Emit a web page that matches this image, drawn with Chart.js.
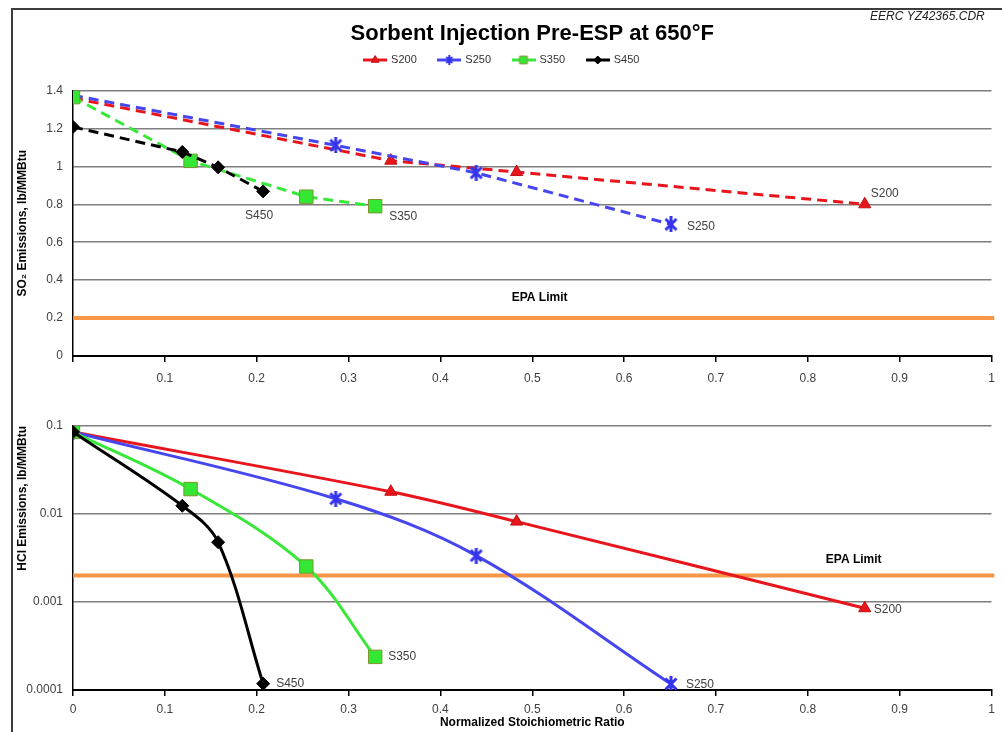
<!DOCTYPE html>
<html>
<head>
<meta charset="utf-8">
<script src="https://cdn.jsdelivr.net/npm/chart.js@4.4.1/dist/chart.umd.min.js"></script>
<style>
  body { margin: 0; background: #fff; overflow: hidden; }
  #frame { position: absolute; left: 11px; top: 8px; width: 991px; height: 724px;
           border-left: 2px solid #3c3c3c; border-top: 2px solid #3c3c3c; }
  canvas { position: absolute; left: 0; }
  #so2 { top: 0; }
  #hcl { top: 392px; }
</style>
</head>
<body>
<div id="frame"></div>
<canvas id="so2" width="1002" height="392"></canvas>
<canvas id="hcl" width="1002" height="340"></canvas>
<script>
// sorbents and axis ticks
const sorbents = ['S200', 'S250', 'S350', 'S450'];
const nsrTicks = [0, 0.1, 0.2, 0.3, 0.4, 0.5, 0.6, 0.7, 0.8, 0.9, 1];
const so2Ticks = [0, 0.2, 0.4, 0.6, 0.8, 1, 1.2, 1.4];
const hclTicks = [0.0001, 0.001, 0.01, 0.1];

// normalized stoichiometric ratio for each sorbent
const s200Nsr = [0, 0.346, 0.483, 0.862];
const s250Nsr = [0, 0.286, 0.439, 0.651];
const s350Nsr = [0, 0.128, 0.254, 0.329];
const s450Nsr = [0, 0.119, 0.158, 0.207];

// SO2 emissions, lb/MMBtu
const s200So2 = [1.36, 1.03, 0.97, 0.80];
const s250So2 = [1.375, 1.111, 0.966, 0.694];
const s350So2 = [1.365, 1.029, 0.84, 0.79];
const s450So2 = [1.208, 1.076, 0.995, 0.868];

// HCl emissions, lb/MMBtu
const s200Hcl = [0.0855, 0.0179, 0.0082, 0.00085];
const s250Hcl = [0.0855, 0.0149, 0.00337, 0.000117];
const s350Hcl = [0.0855, 0.0192, 0.00253, 0.000238];
const s450Hcl = [0.0855, 0.0124, 0.00478, 0.000118];

// EPA limits
const epaSo2 = 0.2;
const epaHcl = 0.002;
const epaSpan = [0, 1.003];
const epaLabelX = [0.508, 0.85];

const { drawPoint } = Chart.helpers;
Chart.defaults.font.family = '"Liberation Sans", Arial, sans-serif';
Chart.defaults.color = '#404040';

function starImage(color, size, lw) {
  const c = document.createElement('canvas');
  c.width = size; c.height = size;
  const g = c.getContext('2d');
  const m = lw / 2 + 1;
  g.strokeStyle = color; g.lineWidth = lw;
  g.beginPath();
  g.moveTo(m, m); g.lineTo(size - m, size - m);
  g.moveTo(size - m, m); g.lineTo(m, size - m);
  g.moveTo(size / 2, 0); g.lineTo(size / 2, size);
  g.stroke();
  return c;
}

const seriesStyles = [
  { color: '#e8161c', fill: '#e8161c', border: '#c01010', marker: 'triangle', radius: 7, legendRadius: 4.5 },
  { color: '#4646f0', fill: '#4646f0', border: '#4646f0', marker: starImage('#3434ee', 16, 3), radius: 7, legendImg: starImage('#3434ee', 10, 2) },
  { color: '#38e838', fill: '#33e833', border: '#7f9430', marker: 'rect', radius: 9.5, legendRadius: 5.5 },
  { color: '#000000', fill: '#000000', border: '#000000', marker: 'rectRot', radius: 6.5, legendRadius: 4 }
];

function legendImage(i) {
  const st = seriesStyles[i];
  const c = document.createElement('canvas');
  c.width = 24; c.height = 12;
  const g = c.getContext('2d');
  g.strokeStyle = st.color; g.lineWidth = 3;
  g.beginPath(); g.moveTo(0, 6); g.lineTo(24, 6); g.stroke();
  if (st.legendImg) {
    g.drawImage(st.legendImg, 7, 1);
  } else {
    g.fillStyle = st.fill; g.strokeStyle = st.border; g.lineWidth = 1;
    drawPoint(g, { pointStyle: st.marker, radius: st.legendRadius, borderWidth: 1, rotation: 0 }, 12, 6);
  }
  return c;
}

function seriesDataset(i, xs, ys, dashed) {
  const st = seriesStyles[i];
  return {
    label: sorbents[i],
    xAxisID: 'x',
    data: xs.map((x, k) => ({ x, y: ys[k] })),
    borderColor: st.color,
    backgroundColor: st.fill,
    borderWidth: 3,
    borderDash: dashed ? [10, 6] : [],
    tension: dashed ? 0 : 0.35,
    pointStyle: st.marker,
    pointRadius: st.radius,
    pointBackgroundColor: st.fill,
    pointBorderColor: st.border,
    pointBorderWidth: 1,
    order: 4 - i
  };
}

function epaDataset(level) {
  return {
    label: 'EPA Limit',
    xAxisID: 'x',
    data: epaSpan.map(x => ({ x, y: level })),
    borderColor: '#f79646',
    borderWidth: 4,
    pointRadius: 0,
    clip: 6,
    order: 10
  };
}

// text tags placed at data values with pixel offsets
const tagPlugin = {
  id: 'tags',
  afterDatasetsDraw(chart, args, opts) {
    const { ctx, scales } = chart;
    ctx.save();
    ctx.textBaseline = 'middle';
    opts.items.forEach(t => {
      ctx.font = t.font || '12px "Liberation Sans", Arial, sans-serif';
      ctx.fillStyle = t.color || '#404040';
      ctx.textAlign = t.align || 'left';
      ctx.fillText(t.text, scales.x.getPixelForValue(t.x) + (t.dx || 0), scales.y.getPixelForValue(t.y) + (t.dy || 0));
    });
    if (opts.stamp) {
      ctx.font = 'italic 12px "Liberation Sans", Arial, sans-serif';
      ctx.fillStyle = '#222';
      ctx.textAlign = 'left';
      ctx.fillText(opts.stamp, 870, 17);
    }
    ctx.restore();
  }
};

const tickFont = { size: 12 };
const boldFont = { size: 12, weight: 'bold' };
const epaFont = 'bold 12px "Liberation Sans", Arial, sans-serif';
const nsrSets = [s200Nsr, s250Nsr, s350Nsr, s450Nsr];
const so2Sets = [s200So2, s250So2, s350So2, s450So2];
const hclSets = [s200Hcl, s250Hcl, s350Hcl, s450Hcl];
const last = a => a[a.length - 1];

const so2Offsets = [{ dx: 6, dy: -11 }, { dx: 16, dy: 2 }, { dx: 14, dy: 11 }, { dx: -4, dy: 24, align: 'center' }];
const hclOffsets = [{ dx: 9, dy: 1 }, { dx: 15, dy: 1 }, { dx: 13, dy: 0 }, { dx: 13, dy: 0 }];

function xScale(showZero, pad, height, withTitle) {
  return {
    type: 'linear', min: 0, max: 1,
    afterBuildTicks: s => { s.ticks = nsrTicks.map(v => ({ value: v })); },
    ticks: { callback: v => (v === 0 && !showZero) ? '' : String(v), font: tickFont, padding: pad, maxRotation: 0, autoSkip: false },
    grid: { drawOnChartArea: false, drawTicks: true, tickLength: 6, color: '#000', lineWidth: 1.5 },
    border: { color: '#000', width: 2 },
    title: { display: withTitle, text: 'Normalized Stoichiometric Ratio', font: boldFont, color: '#000', padding: { top: 2, bottom: 2 } },
    afterFit: s => { s.height = height; s.paddingLeft = 0; s.paddingRight = 0; }
  };
}

new Chart(document.getElementById('so2'), {
  type: 'line',
  data: {
    datasets: sorbents.map((n, i) => seriesDataset(i, nsrSets[i], so2Sets[i], true)).concat([epaDataset(epaSo2)])
  },
  options: {
    responsive: false,
    animation: false,
    layout: { padding: { left: 11, right: 9, top: 0, bottom: 0 } },
    scales: {
      x: xScale(false, 9, 36, false),
      // empty band between the legend and the plot
      spacer: {
        type: 'linear', axis: 'x', position: 'top', display: true,
        afterBuildTicks: s => { s.ticks = []; },
        ticks: { display: false }, grid: { display: false, drawTicks: false }, border: { display: false },
        afterFit: s => { s.height = 15; s.paddingLeft = 0; s.paddingRight = 0; }
      },
      y: {
        min: 0, max: 1.4,
        afterBuildTicks: s => { s.ticks = so2Ticks.map(v => ({ value: v })); },
        ticks: { font: tickFont, padding: 10, callback: v => String(v) },
        grid: { color: '#7f7f7f', lineWidth: 1.5, drawTicks: false },
        border: { color: '#000', width: 1.5 },
        title: { display: true, text: 'SO₂ Emissions, lb/MMBtu', font: boldFont, color: '#000', padding: { top: 4, bottom: 4 } },
        afterFit: s => { s.width = 62; }
      }
    },
    plugins: {
      title: {
        display: true, fullSize: false,
        text: 'Sorbent Injection Pre-ESP at 650°F',
        color: '#000',
        font: { size: 22, weight: 'bold', lineHeight: 1 },
        padding: { top: 23, bottom: -12.5 }
      },
      legend: {
        display: true,
        labels: {
          usePointStyle: true,
          pointStyleWidth: 21,
          padding: 22,
          color: '#333',
          font: { size: 11 },
          filter: item => item.text !== 'EPA Limit',
          sort: (a, b) => a.datasetIndex - b.datasetIndex,
          generateLabels: chart => Chart.defaults.plugins.legend.labels.generateLabels(chart)
            .map(item => Object.assign(item, { pointStyle: item.datasetIndex < 4 ? legendImage(item.datasetIndex) : item.pointStyle }))
        }
      },
      tooltip: { enabled: false },
      tags: {
        stamp: 'EERC YZ42365.CDR',
        items: sorbents.map((n, i) => Object.assign({ text: n, x: last(nsrSets[i]), y: last(so2Sets[i]) }, so2Offsets[i]))
          .concat([{ text: 'EPA Limit', x: epaLabelX[0], y: epaSo2, dy: -20, align: 'center', font: epaFont, color: '#000' }])
      }
    }
  },
  plugins: [tagPlugin]
});

new Chart(document.getElementById('hcl'), {
  type: 'line',
  data: {
    datasets: sorbents.map((n, i) => seriesDataset(i, nsrSets[i], hclSets[i], false)).concat([epaDataset(epaHcl)])
  },
  options: {
    responsive: false,
    animation: false,
    layout: { padding: { left: 11, right: 9, top: 34, bottom: 0 } },
    scales: {
      x: xScale(true, 6, 42, true),
      y: {
        type: 'logarithmic', min: 0.0001, max: 0.1,
        afterBuildTicks: s => { s.ticks = hclTicks.map(v => ({ value: v })); },
        ticks: { font: tickFont, padding: 10, callback: v => String(v) },
        grid: { color: '#7f7f7f', lineWidth: 1.5, drawTicks: false },
        border: { color: '#000', width: 1.5 },
        title: { display: true, align: 'end', text: 'HCl Emissions, lb/MMBtu', font: boldFont, color: '#000', padding: { top: 4, bottom: 4 } },
        afterFit: s => { s.width = 62; }
      }
    },
    plugins: {
      legend: { display: false },
      tooltip: { enabled: false },
      tags: {
        items: sorbents.map((n, i) => Object.assign({ text: n, x: last(nsrSets[i]), y: last(hclSets[i]) }, hclOffsets[i]))
          .concat([{ text: 'EPA Limit', x: epaLabelX[1], y: epaHcl, dy: -16, align: 'center', font: epaFont, color: '#000' }])
      }
    }
  },
  plugins: [tagPlugin]
});
</script>
</body>
</html>
